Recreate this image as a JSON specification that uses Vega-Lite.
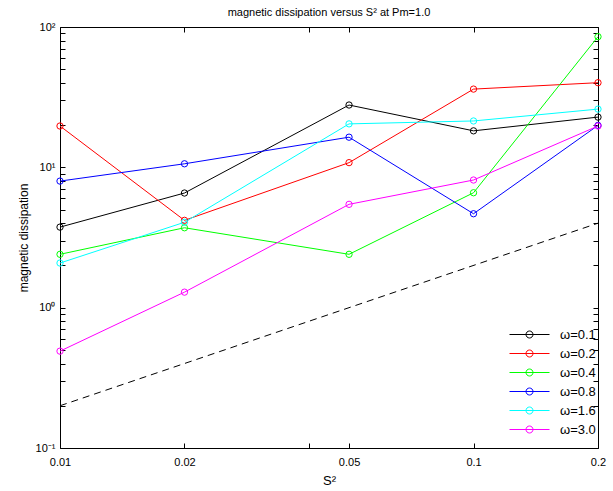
{
  "$schema": "https://vega.github.io/schema/vega-lite/v6.json",
  "autosize": "none",
  "width": 538,
  "height": 421,
  "padding": {"left": 60, "top": 27, "right": 15, "bottom": 43},
  "background": "white",
  "config": {
    "font": "Liberation Sans",
    "view": {"stroke": "black", "strokeWidth": 1},
    "axis": {"grid": false, "domainColor": "black", "tickColor": "black", "labelColor": "black", "titleColor": "black", "labelFont": "Liberation Sans", "titleFont": "Liberation Sans", "titleFontWeight": "normal"}
  },
  "title": {"text": "magnetic dissipation versus S² at Pm=1.0", "fontSize": 11, "fontWeight": "normal", "font": "Liberation Sans", "color": "black", "offset": 3, "anchor": "middle"},
  "datasets": {
    "series": [
      {"s": "ω=0.1", "x": 0.01, "y": 3.75}, {"s": "ω=0.1", "x": 0.02, "y": 6.56}, {"s": "ω=0.1", "x": 0.05, "y": 27.8}, {"s": "ω=0.1", "x": 0.1, "y": 18.2}, {"s": "ω=0.1", "x": 0.2, "y": 22.8},
      {"s": "ω=0.2", "x": 0.01, "y": 19.7}, {"s": "ω=0.2", "x": 0.02, "y": 4.19}, {"s": "ω=0.2", "x": 0.05, "y": 10.8}, {"s": "ω=0.2", "x": 0.1, "y": 36.1}, {"s": "ω=0.2", "x": 0.2, "y": 40.1},
      {"s": "ω=0.4", "x": 0.01, "y": 2.40}, {"s": "ω=0.4", "x": 0.02, "y": 3.71}, {"s": "ω=0.4", "x": 0.05, "y": 2.40}, {"s": "ω=0.4", "x": 0.1, "y": 6.59}, {"s": "ω=0.4", "x": 0.2, "y": 85.3},
      {"s": "ω=0.8", "x": 0.01, "y": 7.98}, {"s": "ω=0.8", "x": 0.02, "y": 10.6}, {"s": "ω=0.8", "x": 0.05, "y": 16.4}, {"s": "ω=0.8", "x": 0.1, "y": 4.67}, {"s": "ω=0.8", "x": 0.2, "y": 19.9},
      {"s": "ω=1.6", "x": 0.01, "y": 2.08}, {"s": "ω=1.6", "x": 0.02, "y": 4.06}, {"s": "ω=1.6", "x": 0.05, "y": 20.4}, {"s": "ω=1.6", "x": 0.1, "y": 21.4}, {"s": "ω=1.6", "x": 0.2, "y": 26.0},
      {"s": "ω=3.0", "x": 0.01, "y": 0.49}, {"s": "ω=3.0", "x": 0.02, "y": 1.29}, {"s": "ω=3.0", "x": 0.05, "y": 5.45}, {"s": "ω=3.0", "x": 0.1, "y": 8.12}, {"s": "ω=3.0", "x": 0.2, "y": 19.7}
    ],
    "ref": [{"x": 0.01, "y": 0.2}, {"x": 0.2, "y": 4}]
  },
  "layer": [
    {
      "data": {"name": "ref"},
      "mark": {"type": "line", "color": "black", "strokeWidth": 1, "strokeDash": [7, 5]},
      "encoding": {
        "x": {"field": "x", "type": "quantitative", "scale": {"type": "log", "domain": [0.01, 0.2], "nice": false},
              "axis": {"orient": "top", "title": null, "labels": false, "values": [0.01, 0.02, 0.04, 0.05, 0.1, 0.2], "tickSize": -5, "domain": false}},
        "y": {"field": "y", "type": "quantitative", "scale": {"type": "log", "domain": [0.1, 100], "nice": false},
              "axis": {"orient": "right", "title": null, "labels": false, "values": [0.1,0.2,0.3,0.4,0.5,0.6,0.7,0.8,0.9,1,2,3,4,5,6,7,8,9,10,20,30,40,50,60,70,80,90,100], "tickSize": -5, "domain": false}}
      }
    },
    {
      "data": {"name": "series"},
      "mark": {"type": "line", "strokeWidth": 1, "point": {"filled": false, "size": 40, "strokeWidth": 1}},
      "encoding": {
        "x": {"field": "x", "type": "quantitative", "scale": {"type": "log", "domain": [0.01, 0.2], "nice": false},
              "axis": {"orient": "bottom", "title": "S²", "titleFontSize": 13, "titlePadding": 7, "labelFontSize": 11, "labelFlush": false, "labelOverlap": false, "labelPadding": 13,
                       "values": [0.01, 0.02, 0.04, 0.05, 0.1, 0.2], "tickSize": -5, "domain": false,
                       "labelExpr": "datum.value == 0.04 ? '' : datum.label"}},
        "y": {"field": "y", "type": "quantitative", "scale": {"type": "log", "domain": [0.1, 100], "nice": false},
              "axis": {"orient": "left", "title": "magnetic dissipation", "titleFontSize": 12, "titlePadding": 5, "labelFontSize": 11, "labelFlush": false, "labelOverlap": false, "labelPadding": 10,
                       "values": [0.1,0.2,0.3,0.4,0.5,0.6,0.7,0.8,0.9,1,2,3,4,5,6,7,8,9,10,20,30,40,50,60,70,80,90,100], "tickSize": -5, "domain": false,
                       "labelExpr": "datum.value == 100 ? '10²' : datum.value == 10 ? '10¹' : datum.value == 1 ? '10⁰' : datum.value == 0.1 ? '10⁻¹' : ''"}},
        "color": {"field": "s", "type": "nominal", "title": null,
                  "scale": {"domain": ["ω=0.1", "ω=0.2", "ω=0.4", "ω=0.8", "ω=1.6", "ω=3.0"], "range": ["#000000", "#ff0000", "#00ff00", "#0000ff", "#00ffff", "#ff00ff"]},
                  "legend": {"orient": "none", "legendX": 463, "legendY": 301, "symbolType": "M-4,0H4M0.7,0A0.7,0.7 0 1,1 -0.7,0A0.7,0.7 0 1,1 0.7,0", "symbolSize": 100, "symbolStrokeWidth": 1, "symbolFillColor": "transparent", "labelFontSize": 13, "labelFont": "Liberation Sans", "labelColor": "black", "labelOffset": 24, "rowPadding": 5, "padding": 0}}
      }
    }
  ],
  "resolve": {"axis": {"x": "independent", "y": "independent"}}
}
